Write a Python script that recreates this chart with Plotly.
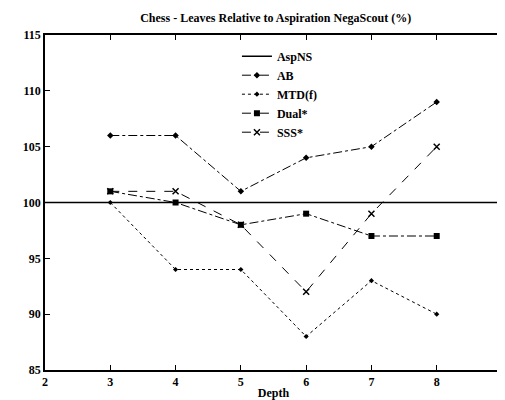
import plotly.graph_objects as go

depths = [3, 4, 5, 6, 7, 8]
aspns_x = [2, 9]
aspns_y = [100, 100]
ab = [106, 106, 101, 104, 105, 109]
mtdf = [100, 94, 94, 88, 93, 90]
dual = [101, 100, 98, 99, 97, 97]
sss = [101, 101, 98, 92, 99, 105]

x_ticks = [2, 3, 4, 5, 6, 7, 8, 9]
y_ticks = [85, 90, 95, 100, 105, 110, 115]

FONT = "Liberation Serif"

fig = go.Figure()
fig.add_trace(go.Scatter(x=aspns_x, y=aspns_y, mode="lines", name="<b>AspNS</b>",
                         line=dict(color="black", width=1.5)))
fig.add_trace(go.Scatter(x=depths, y=ab, mode="lines+markers", name="<b>AB</b>",
                         line=dict(color="black", width=1, dash="dashdot"),
                         marker=dict(symbol="diamond", size=5, color="black")))
fig.add_trace(go.Scatter(x=depths, y=mtdf, mode="lines+markers", name="<b>MTD(f)</b>",
                         line=dict(color="black", width=1, dash="dot"),
                         marker=dict(symbol="diamond", size=4, color="black")))
fig.add_trace(go.Scatter(x=depths, y=dual, mode="lines+markers", name="<b>Dual*</b>",
                         line=dict(color="black", width=1, dash="dashdot"),
                         marker=dict(symbol="square", size=6, color="black")))
fig.add_trace(go.Scatter(x=depths, y=sss, mode="lines+markers", name="<b>SSS*</b>",
                         line=dict(color="black", width=1, dash="dash"),
                         marker=dict(symbol="x-thin", size=6, color="black",
                                     line=dict(color="black", width=1.5))))

axis_common = dict(showgrid=False, zeroline=False, showline=True, linecolor="black",
                   linewidth=1.5, mirror="ticks", ticks="inside", ticklen=5,
                   tickcolor="black", tickfont=dict(family=FONT, size=12, color="black"))

fig.update_layout(
    width=505, height=400,
    margin=dict(l=37, r=8, t=27, b=38),
    paper_bgcolor="white", plot_bgcolor="white",
    title=dict(text="<b>Chess - Leaves Relative to Aspiration NegaScout (%)</b>",
               x=0.53, xanchor="center", y=0.985, yanchor="top",
               font=dict(family=FONT, size=12, color="black")),
    xaxis=dict(range=[2, 9], tickvals=x_ticks,
               ticktext=["<b>%d</b>" % v for v in x_ticks],
               title=dict(text="<b>Depth</b>", standoff=0,
                          font=dict(family=FONT, size=12, color="black")),
               **axis_common),
    yaxis=dict(range=[85, 115], tickvals=y_ticks,
               ticktext=["<b>%d</b>" % v for v in y_ticks],
               **axis_common),
    legend=dict(x=0.42, y=0.98, xanchor="left", yanchor="top",
                bgcolor="rgba(0,0,0,0)", tracegroupgap=0,
                font=dict(family=FONT, size=12, color="black")),
    showlegend=True,
)

fig.write_html("out.html")
